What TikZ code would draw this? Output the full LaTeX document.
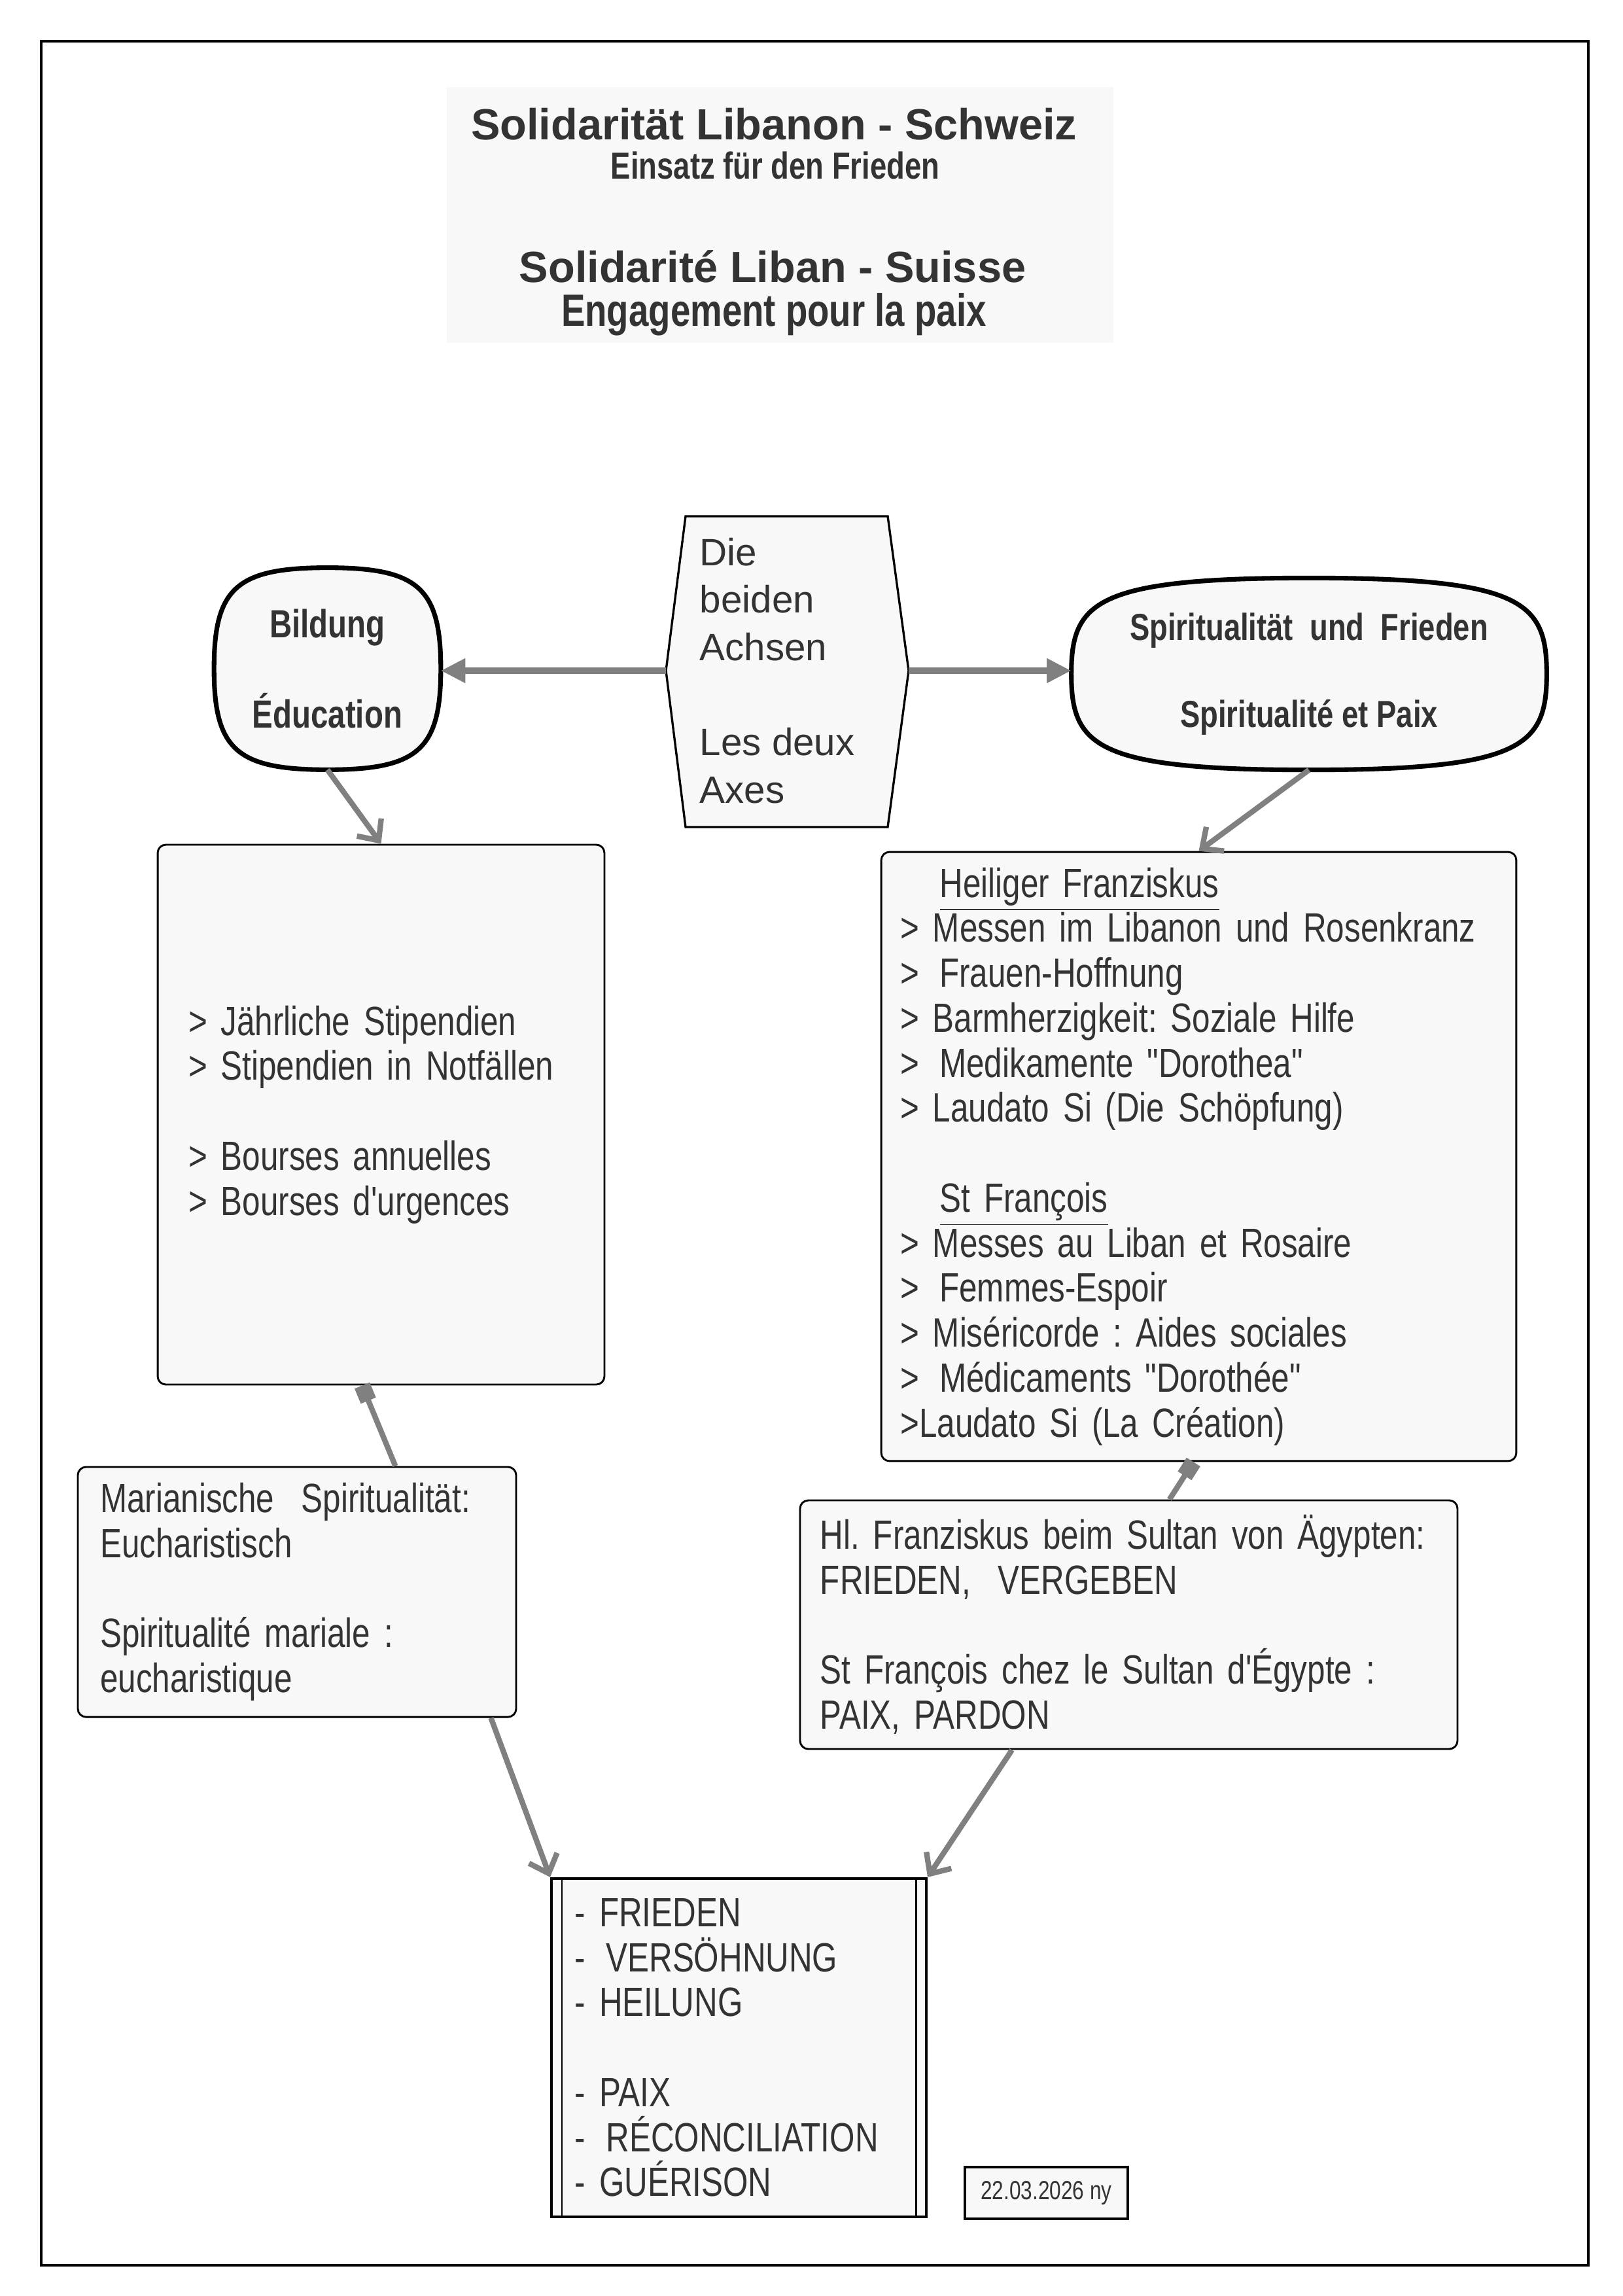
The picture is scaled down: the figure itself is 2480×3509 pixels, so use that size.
\documentclass[tikz,border=0pt]{standalone}
\usepackage{fontspec}
\setmainfont{Liberation Sans}
\newfontfamily\narrowfont[FakeStretch=0.79]{Liberation Sans}
\usetikzlibrary{arrows.meta,calc,backgrounds}
\definecolor{boxgray}{HTML}{F8F8F8}
\definecolor{linkgray}{HTML}{808080}
\definecolor{inkgray}{HTML}{333333}
\frenchspacing
\tikzset{
  titleline/.style = {anchor=base, inner sep=0pt, text=inkgray},
  axestext/.style  = {anchor=west, align=left, inner sep=0pt, text=inkgray,
                      font=\fontsize{14pt}{17.45pt}\selectfont},
  axisbox/.style   = {shape=rectangle, inner sep=0pt, align=center, text=inkgray,
                      font=\narrowfont\bfseries\fontsize{14.4pt}{17pt}\selectfont},
  pillow/.style    = {draw, line width=1.7pt, fill=boxgray},
  listbox/.style   = {shape=rectangle, rounded corners=3pt, draw, line width=0.7pt,
                      fill=boxgray, align=left, inner sep=0pt, text=inkgray,
                      font=\narrowfont\fontsize{15pt}{16.5pt}\selectfont},
  healbox/.style   = {listbox, rounded corners=0pt, line width=1pt},
  datebox/.style   = {shape=rectangle, draw, line width=1pt, fill=boxgray, inner sep=0pt,
                      text=inkgray, font=\narrowfont\fontsize{9.6pt}{11pt}\selectfont},
  link/.style      = {draw=linkgray, line width=2pt, -{Straight Barb[length=6pt,width=11pt]}},
  pin/.style       = {draw=linkgray, line width=2pt, -{Square[length=6pt,width=6pt]}},
  axisarrow/.style = {draw=linkgray, line width=2.6pt, -{Triangle[length=9pt,width=8.5pt]}}
}
% rounded pillow round a node: #1 name, #2 flatness of top/bottom, #3 of the sides
\newcommand\pillow[3]{%
  \path[pillow] (#1.north)
    .. controls ($(#1.north)!#2!(#1.north east)$) and ($(#1.east)!#3!(#1.north east)$) .. (#1.east)
    .. controls ($(#1.east)!#3!(#1.south east)$) and ($(#1.south)!#2!(#1.south east)$) .. (#1.south)
    .. controls ($(#1.south)!#2!(#1.south west)$) and ($(#1.west)!#3!(#1.south west)$) .. (#1.west)
    .. controls ($(#1.west)!#3!(#1.north west)$) and ($(#1.north)!#2!(#1.north west)$) .. (#1.north)
    -- cycle;}

\begin{document}
\begin{tikzpicture}[x=0.24pt, y=-0.24pt]
  \useasboundingbox (0,0) rectangle (2480,3509);
  % frame and title
  \draw[line width=0.8pt] (63,63) rectangle (2428,3462);
  \fill[boxgray] (683,133) rectangle (1702,524);
  \node[titleline, font=\bfseries\fontsize{16pt}{19pt}\selectfont] (titleDE) at (1183,214) {Solidarität Libanon - Schweiz};
  \node[titleline, font=\narrowfont\bfseries\fontsize{13.8pt}{16pt}\selectfont] (subDE) at (1185,274) {Einsatz für den Frieden};
  \node[titleline, font=\bfseries\fontsize{16pt}{19pt}\selectfont] (titleFR) at (1181,432) {Solidarité Liban - Suisse};
  \node[titleline, font=\narrowfont\bfseries\fontsize{16.6pt}{19pt}\selectfont] (subFR) at (1183,499) {Engagement pour la paix};

  % the two axes
  \draw[line width=0.8pt, fill=boxgray] (1048,789) -- (1357,789) -- (1389,1025) coordinate (axR)
    -- (1357,1264) -- (1048,1264) -- (1018,1025) coordinate (axL) -- cycle;
  \node[axestext] (axes) at (1069,1025) {Die\\beiden\\Achsen\\[17.45pt]Les deux\\Axes};

  \node[axisbox, minimum width=82.8pt, minimum height=73.7pt] (bildung) at (500.5,1022)
    {Bildung\\[16pt]Éducation};
  \node[axisbox, minimum width=174pt, minimum height=70pt,
        font=\narrowfont\bfseries\fontsize{13.8pt}{16.5pt}\selectfont] (spirit) at (2001,1030)
    {Spiritualität~ und~ Frieden\\[15.5pt]Spiritualité et Paix};
  \begin{scope}[on background layer]
    \pillow{bildung}{0.8}{0.8}
    \pillow{spirit}{0.9}{0.75}
  \end{scope}

  % the boxes
  \node[listbox, minimum width=163.9pt, minimum height=198pt, text width=141.3pt] (stip) at (582.5,1703.5)
    {> Jährliche Stipendien\\
     > Stipendien in Notfällen\\[16.5pt]
     > Bourses annuelles\\
     > Bourses d'urgences};
  \node[listbox, minimum width=233pt, minimum height=223.4pt, text width=219pt] (franz) at (1832.5,1767.5)
    {\hspace*{14.5pt}\underline{Heiliger Franziskus}\\
     > Messen im Libanon und Rosenkranz\\
     >\, Frauen-Hoffnung\\
     > Barmherzigkeit: Soziale Hilfe\\
     >\, Medikamente "Dorothea"\\
     > Laudato Si (Die Schöpfung)\\[16.5pt]
     \hspace*{14.5pt}\underline{St François}\\
     > Messes au Liban et Rosaire\\
     >\, Femmes-Espoir\\
     > Miséricorde : Aides sociales\\
     >\, Médicaments "Dorothée"\\
     >Laudato Si (La Création)};
  \node[listbox, minimum width=160.8pt, minimum height=91.7pt, text width=144.4pt] (marian) at (454,2433)
    {Marianische~ Spiritualität:\\
     Eucharistisch\\[16.5pt]
     Spiritualité mariale :\\
     eucharistique};
  \node[listbox, minimum width=241.2pt, minimum height=91.2pt, text width=226.4pt] (sultan) at (1725.5,2483)
    {Hl. Franziskus beim Sultan von Ägypten:\\
     FRIEDEN,~ VERGEBEN\\[16.5pt]
     St François chez le Sultan d'Égypte :\\
     PAIX, PARDON};
  \node[healbox, minimum width=137.5pt, minimum height=124.1pt, text width=120.3pt] (heal) at (1129.5,3129.5)
    {- FRIEDEN\\
     -\, VERSÖHNUNG\\
     - HEILUNG\\[16.5pt]
     - PAIX\\
     -\, RÉCONCILIATION\\
     - GUÉRISON};
  \draw[line width=0.7pt] ($(heal.north west)+(18,0)$) -- ($(heal.south west)+(18,0)$);
  \draw[line width=0.7pt] ($(heal.north east)+(-18,0)$) -- ($(heal.south east)+(-18,0)$);
  \node[datebox, minimum width=59.8pt, minimum height=19pt] (stamp) at (1599.5,3351.5) {22.03.2026 ny};

  % connectors
  \draw[axisarrow] (axL) -- (axL -| bildung.east);
  \draw[axisarrow] (axR) -- (axR -| spirit.west);
  \draw[link] (bildung.south) -- (stip.north);
  \draw[link] (spirit.south) -- (franz.north);
  \draw[link] (marian.-33) -- (heal.north west);
  \draw[link] (sultan.-133) -- (heal.north east);
  \draw[pin] (marian.52) -- (stip.-94);
  \draw[pin] (sultan.72) -- (franz.-91);
\end{tikzpicture}
\end{document}
